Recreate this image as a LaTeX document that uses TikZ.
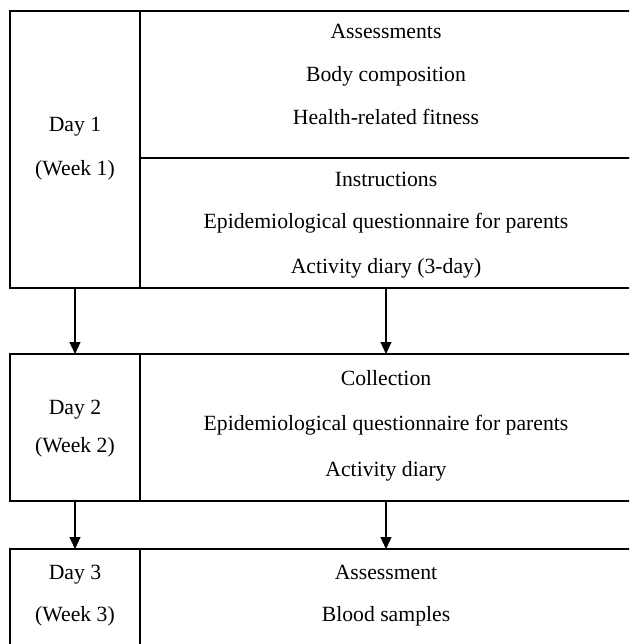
\documentclass[tikz,border=0pt]{standalone}
\usepackage{fontspec}
\setmainfont{Liberation Serif}
\usetikzlibrary{arrows.meta}
\begin{document}
\begin{tikzpicture}[x=1pt,y=-1pt,
  cell/.style={draw, line width=2.8pt, anchor=north west, inner sep=0pt, outer sep=0pt},
  lbl/.style={anchor=base, inner sep=0pt, font=\fontsize{21.7}{26}\selectfont},
  arr/.style={line width=1.2pt, -{Triangle[width=11pt,length=12pt]}}]
\useasboundingbox (0,0) rectangle (629,644);
\clip (0,0) rectangle (629,644);
% Day 1
\node[cell, minimum width=130, minimum height=277] (d1) at (10,11) {};
\node[cell, minimum width=492, minimum height=147] (a1) at (140,11) {};
\node[cell, minimum width=492, minimum height=130] (i1) at (140,158) {};
% Day 2
\node[cell, minimum width=130, minimum height=147] (d2) at (10,354) {};
\node[cell, minimum width=492, minimum height=147] (c2) at (140,354) {};
% Day 3
\node[cell, minimum width=130, minimum height=120] (d3) at (10,549) {};
\node[cell, minimum width=492, minimum height=120] (a3) at (140,549) {};
% texts box 1
\node[lbl] (t1) at (75,132) {Day 1};
\node[lbl] (t2) at (75,176) {(Week 1)};
\node[lbl] (t3) at (386,39) {Assessments};
\node[lbl] (t4) at (386,82) {Body composition};
\node[lbl] (t5) at (386,125) {Health-related fitness};
\node[lbl] (t6) at (386,186) {Instructions};
\node[lbl] (t7) at (386,229) {Epidemiological questionnaire for parents};
\node[lbl] (t8) at (386,273) {Activity diary (3-day)};
% texts box 2
\node[lbl] (t9) at (75,414) {Day 2};
\node[lbl] (t10) at (75,452) {(Week 2)};
\node[lbl] (t11) at (386,385) {Collection};
\node[lbl] (t12) at (386,430) {Epidemiological questionnaire for parents};
\node[lbl] (t13) at (386,476) {Activity diary};
% texts box 3
\node[lbl] (t14) at (75,579) {Day 3};
\node[lbl] (t15) at (75,621) {(Week 3)};
\node[lbl] (t16) at (386,579) {Assessment};
\node[lbl] (t17) at (386,621) {Blood samples};
% arrows
\draw[arr] (d1.south) -- (d2.north);
\draw[arr] (i1.south) -- (c2.north);
\draw[arr] (d2.south) -- (d3.north);
\draw[arr] (c2.south) -- (a3.north);
\end{tikzpicture}
\end{document}
